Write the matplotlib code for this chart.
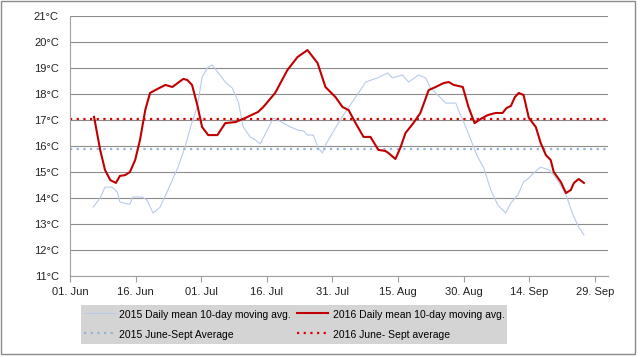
import numpy as np
import pandas as pd
import matplotlib
matplotlib.use("Agg")
import matplotlib.pyplot as plt
import matplotlib.dates as mdates
from matplotlib.patches import Rectangle

plt.rcParams['font.family'] = ['Liberation Sans', 'DejaVu Sans']

# days after 1 June
days2015 = [5.3, 6.9, 8.0, 9.6, 10.8, 11.4, 13.1, 13.7, 14.4, 16.5, 17.6, 19.0, 20.6,
            22.4, 24.7, 26.3, 27.7, 29.1, 30.2, 31.4, 32.5, 33.9, 35.5, 37.1, 38.5,
            39.6, 41.2, 42.4, 43.5, 46.5, 48.8, 50.4, 52.0, 53.4, 54.3, 55.6, 56.8,
            57.7, 58.4, 60.0, 62.5, 65.3, 67.6, 70.3, 72.6, 73.7, 76.0, 77.4, 79.7,
            81.3, 82.4, 83.6, 85.9, 88.2, 88.8, 90.5, 92.1, 93.2, 94.6, 96.2, 97.8,
            99.6, 100.8, 102.4, 103.7, 104.9, 106.0, 107.6, 109.5, 110.6, 111.7,
            113.4, 115.0, 116.3, 117.5]
temp2015 = [13.65, 14.0, 14.42, 14.42, 14.23, 13.85, 13.77, 13.77, 14.04, 14.04, 13.92,
            13.42, 13.65, 14.31, 15.19, 15.96, 16.81, 17.5, 18.65, 19.0, 19.12, 18.81,
            18.46, 18.23, 17.69, 16.73, 16.35, 16.23, 16.08, 17.08, 16.88, 16.73, 16.62,
            16.58, 16.42, 16.42, 15.92, 15.73, 16.04, 16.5, 17.19, 17.88, 18.46, 18.62,
            18.81, 18.62, 18.73, 18.46, 18.73, 18.62, 18.23, 18.04, 17.65, 17.65, 17.38,
            16.73, 16.04, 15.58, 15.15, 14.31, 13.73, 13.42, 13.81, 14.12, 14.62, 14.77,
            14.96, 15.19, 15.08, 14.88, 14.62, 14.12, 13.35, 12.88, 12.58]

days2016 = [5.5, 6.9, 8.0, 9.2, 10.5, 11.4, 12.6, 13.7, 14.9, 16.0, 17.2, 18.3, 19.5,
            21.8, 23.4, 25.9, 26.8, 27.9, 29.1, 30.2, 31.6, 33.7, 35.5, 37.8, 40.1,
            43.0, 44.2, 46.9, 49.7, 52.0, 54.3, 56.6, 58.4, 60.7, 62.3, 63.7, 65.3,
            67.1, 68.7, 70.5, 72.1, 72.8, 74.4, 75.6, 76.7, 78.5, 80.1, 82.0, 83.6,
            85.4, 86.6, 87.7, 89.8, 91.1, 92.5, 93.9, 95.5, 97.3, 98.9, 99.8, 100.8,
            101.7, 102.6, 103.7, 104.9, 106.5, 107.6, 108.8, 109.9, 110.6, 112.2,
            113.4, 114.5, 115.2, 116.3, 117.5]
temp2016 = [17.12, 15.85, 15.08, 14.69, 14.58, 14.85, 14.88, 15.0, 15.46, 16.23, 17.38,
            18.04, 18.15, 18.35, 18.27, 18.58, 18.54, 18.35, 17.58, 16.73, 16.42, 16.42,
            16.88, 16.92, 17.08, 17.31, 17.5, 18.04, 18.92, 19.42, 19.69, 19.19, 18.27,
            17.88, 17.5, 17.38, 16.88, 16.35, 16.35, 15.85, 15.81, 15.73, 15.5, 15.96,
            16.5, 16.88, 17.27, 18.15, 18.27, 18.42, 18.46, 18.35, 18.27, 17.5, 16.88,
            17.04, 17.19, 17.27, 17.27, 17.46, 17.54, 17.88, 18.04, 17.96, 17.08, 16.73,
            16.12, 15.65, 15.46, 15.0, 14.62, 14.19, 14.31, 14.58, 14.73, 14.58]

avg2015 = 15.88
avg2016 = 17.04

start = pd.Timestamp('2016-06-01')
tick_dates = pd.date_range(start, periods=9, freq='15D')

x2015 = start + pd.to_timedelta(days2015, unit='D')
x2016 = start + pd.to_timedelta(days2016, unit='D')

fig = plt.figure(figsize=(6.4, 3.57), dpi=100)
ax = fig.add_axes([70 / 640, 1 - 276 / 357, 538 / 640, 260 / 357])

gray = '#8c8c8c'
ax.plot(x2015, temp2015, color='#b8cbe8', lw=0.8,
        label='2015 Daily mean 10-day moving avg.')
ax.axhline(avg2015, color='#95b3d7', lw=1.6, ls=(0, (1, 2.0)),
           label='2015 June-Sept Average')
ax.plot(x2016, temp2016, color='#c00000', lw=1.5,
        label='2016 Daily mean 10-day moving avg.')
ax.axhline(avg2016, color='#e00000', lw=1.6, ls=(0, (1, 2.0)),
           label='2016 June- Sept average')

ax.set_ylim(11, 21)
ax.set_yticks(range(11, 22))
ax.set_yticklabels(['%d°C' % t for t in range(11, 22)])
ax.set_xlim(start, start + pd.Timedelta(days=123))
ax.set_xticks(tick_dates)
ax.xaxis.set_major_formatter(mdates.DateFormatter('%d. %b'))

ax.grid(axis='y', color=gray, lw=0.8)
ax.set_axisbelow(True)
for s in ['top', 'right']:
    ax.spines[s].set_visible(False)
for s in ['left', 'bottom']:
    ax.spines[s].set_color('#a0a0a0')
    ax.spines[s].set_linewidth(0.8)
ax.tick_params(axis='y', length=0, labelsize=8, pad=8, colors='#222222')
ax.tick_params(axis='x', length=4, direction='out', color='#a0a0a0',
               labelsize=8, pad=4, labelcolor='#222222')

leg = ax.legend(ncol=2, loc='upper center', bbox_to_anchor=(294 / 640, 1 - 300 / 357),
                bbox_transform=fig.transFigure, fontsize=7.5, frameon=True,
                fancybox=False, handlelength=3.0, handletextpad=0.4,
                columnspacing=0.6, labelspacing=0.8, borderpad=0.3,
                handleheight=1.4)
leg.get_frame().set_facecolor('#d4d4d4')
leg.get_frame().set_edgecolor('none')
leg.get_frame().set_alpha(1)

fig.patches.append(Rectangle((1 / 640, 1 - 354 / 357), 634 / 640, 353 / 357,
                             transform=fig.transFigure, fill=False,
                             edgecolor='#8a8a8a', lw=1))

fig.savefig('out.png', dpi=100)
